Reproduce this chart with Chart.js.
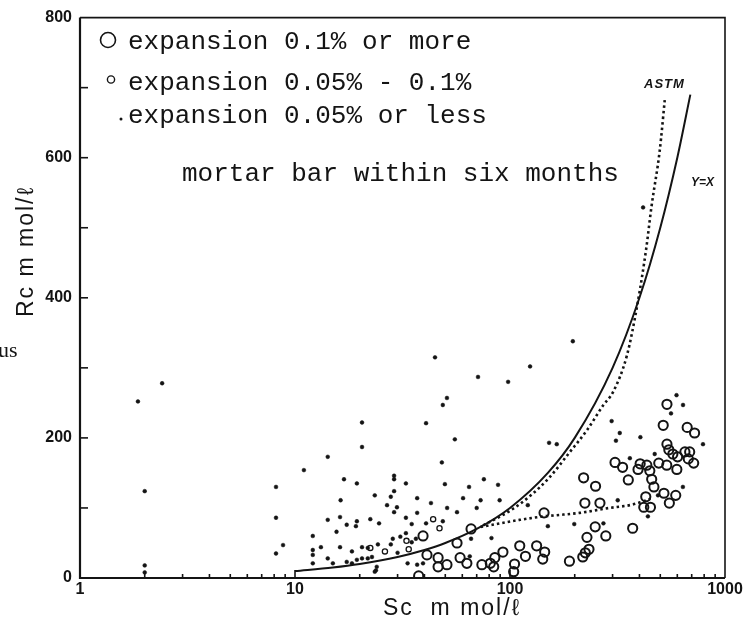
<!DOCTYPE html>
<html>
<head>
<meta charset="utf-8">
<script src="https://cdn.jsdelivr.net/npm/chart.js@4.4.0/dist/chart.umd.min.js"></script>
<style>
  html, body { margin: 0; padding: 0; background: #fff; }
</style>
</head>
<body>
<canvas id="rcChart" width="749" height="626"></canvas>
<script>
  // expansion 0.1% or more (large open circles)
  var bigSc = [37.6, 39.4, 41.1, 46.3, 50.9, 46.3, 56.7, 65.9, 58.6, 63, 74, 81, 85, 92.7, 84,
    105, 104, 111, 118, 133, 145, 142, 144, 189, 218, 224, 233, 228, 279, 249, 372, 223, 262,
    220, 250, 355, 308, 334, 403, 394, 433, 447, 456, 467, 428, 419, 450, 492, 536, 597, 520,
    551, 590, 537, 516, 667, 722, 537, 548, 572, 602, 651, 685, 675, 715];
  var bigRc = [3, 60, 33, 29, 19, 16, 50, 70, 29, 21, 19, 21, 29, 37, 16,
    20, 9, 46, 31, 46, 37, 27, 93, 24, 30, 36, 41, 58, 60, 73, 71, 107, 107,
    143, 131, 140, 165, 158, 163, 155, 161, 153, 141, 130, 116, 101, 101, 164, 161, 155, 121,
    107, 118, 248, 218, 215, 207, 191, 183, 177, 173, 180, 180, 170, 164];

  // expansion 0.05% - 0.1% (small open circles)
  var midSc = [22.4, 26.2, 33, 33.8, 47, 43.9];
  var midRc = [43, 38, 53, 41, 71, 84];

  // expansion 0.05% or less (dots)
  var lowSc = [1.86, 2.41, 2, 2, 2,
    8.16, 8.16, 8.8, 8.16,
    11.0, 14.2, 20.5, 20.5, 16.9, 19.4, 16.3, 23.5,
    14.2, 16.2, 17.4, 19.2, 19.4, 22.4, 24.6,
    12.1, 13.2, 15.6, 16.2, 18.4, 20.5, 21.8, 24.3,
    12.1, 12.1, 12.1, 14.2, 15, 17.4, 18.4, 19.4, 20.5, 21.8, 23.8,
    28.9, 28.9, 32.8, 28.9, 27.9, 26.8, 29.8, 28.9, 37, 37, 32.8, 34.9, 27.9, 28.5, 30.9, 32.8,
    34.9, 36.5, 30, 22.8, 24, 23.5, 33.4, 37,
    98, 50.9, 48.7, 40.7, 55.4, 48.2, 49.8, 64.5, 75.6, 88, 42.9, 51, 60.5, 73, 56.7, 70, 89.5,
    121, 40.7, 48.7, 82, 150, 152, 165, 65, 39.4, 65.9,
    44.8, 71, 124, 196, 416,
    595, 638, 561, 297, 324, 311, 404, 790, 471, 361, 637, 317, 438, 488, 272, 199];
  var lowRc = [252, 278, 124, 8, 18,
    130, 86, 47, 35,
    154, 173, 222, 187, 141, 135, 111, 118,
    83, 87, 76, 74, 81, 84, 78,
    60, 44, 66, 44, 38, 44, 43, 48,
    40, 33, 21, 28, 21, 23, 21, 26, 28, 28, 11,
    146, 141, 135, 124, 116, 104, 101, 94, 114, 93, 86, 77, 48, 56, 59, 64,
    51, 56, 36, 30, 16, 9, 21, 19,
    280, 257, 247, 221, 198, 165, 134, 130, 141, 133, 107, 100, 114, 111, 94, 100, 111,
    104, 78, 81, 57, 74, 193, 191, 31, 21, 56,
    315, 287, 302, 338, 529,
    261, 247, 235, 224, 207, 196, 201, 191, 177, 171, 130, 111, 88, 118, 78, 77];

  // Y=X curve
  var yxSc = [10, 15, 20, 30, 40, 50, 70, 100, 150, 200, 300, 400, 500, 600, 690];
  var yxRc = [10, 15, 20, 30, 40, 50, 70, 100, 150, 200, 300, 400, 500, 600, 690];

  // ASTM boundary (dotted)
  var astmSc = [75, 100, 125, 153, 190, 228, 272, 301, 350, 392, 430, 455, 497, 526];
  var astmRc = [75, 96, 118, 144, 180, 211, 247, 265, 318, 392, 470, 530, 610, 686];

  // lower dotted branch
  var branchSc = [73, 90, 111, 144, 170, 211, 290, 361, 403, 450];
  var branchRc = [73, 78, 83, 88, 90, 93, 100, 104, 108, 113];

  // ticks
  var xTicks = [1, 2, 3, 4, 5, 6, 7, 8, 9, 10, 20, 30, 40, 50, 60, 70, 80, 90,
    100, 200, 300, 400, 500, 600, 700, 800, 900, 1000];
  var xTickLabels = [1, 10, 100, 1000];
  var yTicks = [0, 100, 200, 300, 400, 500, 600, 700, 800];
  var yTickLabels = [0, 200, 400, 600, 800];

  var ink = '#141414';

  function pairs(xs, ys) {
    return xs.map(function (x, i) { return { x: x, y: ys[i] }; });
  }

  // frame, inward ticks, texts
  var decorPlugin = {
    id: 'decor',
    afterDraw: function (chart) {
      var ctx = chart.ctx;
      var a = chart.chartArea;
      var xs = chart.scales.x, ys = chart.scales.y;
      ctx.save();
      ctx.strokeStyle = ink;
      ctx.fillStyle = ink;

      // frame
      ctx.lineWidth = 2.2;
      ctx.beginPath();
      ctx.moveTo(a.left, a.top);
      ctx.lineTo(a.left, a.bottom);
      ctx.lineTo(a.right, a.bottom);
      ctx.stroke();
      ctx.lineWidth = 1.6;
      ctx.beginPath();
      ctx.moveTo(a.left, a.top);
      ctx.lineTo(a.right, a.top);
      ctx.lineTo(a.right, a.bottom);
      ctx.stroke();

      // inward ticks
      ctx.lineWidth = 1.6;
      xTicks.forEach(function (v) {
        if (v <= 1 || v >= 1000) return;
        var px = xs.getPixelForValue(v);
        var len = xTickLabels.indexOf(v) >= 0 ? 8 : 4;
        ctx.beginPath();
        ctx.moveTo(px, a.bottom);
        ctx.lineTo(px, a.bottom - len);
        ctx.stroke();
      });
      yTicks.forEach(function (v) {
        if (v <= 0 || v >= 800) return;
        var py = ys.getPixelForValue(v);
        ctx.beginPath();
        ctx.moveTo(a.left, py);
        ctx.lineTo(a.left + 8, py);
        ctx.stroke();
      });

      // legend text
      ctx.font = '26px "Liberation Mono"';
      ctx.textAlign = 'left';
      ctx.textBaseline = 'alphabetic';
      ctx.fillText('expansion 0.1% or more', 128, 49);
      ctx.fillText('expansion 0.05% - 0.1%', 128, 90);
      ctx.fillText('expansion 0.05% or less', 128, 123);
      ctx.fillText('mortar bar within six months', 182, 181);

      ctx.lineWidth = 1.6;
      ctx.beginPath();
      ctx.arc(108, 40, 7.5, 0, Math.PI * 2);
      ctx.stroke();
      ctx.lineWidth = 1.4;
      ctx.beginPath();
      ctx.arc(111, 79.5, 3.6, 0, Math.PI * 2);
      ctx.stroke();
      ctx.beginPath();
      ctx.arc(121, 119, 1.5, 0, Math.PI * 2);
      ctx.fill();

      // curve labels
      ctx.font = 'italic bold 13px "Liberation Sans"';
      ctx.letterSpacing = '1px';
      ctx.fillText('ASTM', 644, 88);
      ctx.letterSpacing = '0px';
      ctx.font = 'italic bold 12px "Liberation Sans"';
      ctx.fillText('Y=X', 691, 186);

      // axis titles
      ctx.font = '23px "Liberation Sans"';
      ctx.letterSpacing = '2px';
      ctx.fillText('Sc  m mol/\u2113', 383, 615);
      ctx.save();
      ctx.translate(33, 317);
      ctx.rotate(-Math.PI / 2);
      ctx.fillText('Rc m mol/\u2113', 0, 0);
      ctx.restore();
      ctx.letterSpacing = '0px';

      // cut-off fragment at left edge
      ctx.font = '22px "Liberation Serif"';
      ctx.fillText('us', -2, 357);
      ctx.restore();
    }
  };

  var ctx = document.getElementById('rcChart').getContext('2d');
  var rcChart = new Chart(ctx, {
    type: 'scatter',
    data: {
      datasets: [
        {
          label: 'Y=X',
          data: pairs(yxSc, yxRc),
          showLine: true,
          borderColor: ink,
          borderWidth: 2,
          pointRadius: 0,
          cubicInterpolationMode: 'monotone'
        },
        {
          label: 'ASTM',
          data: pairs(astmSc, astmRc),
          showLine: true,
          borderColor: ink,
          borderWidth: 2.6,
          borderDash: [2.5, 3],
          pointRadius: 0,
          cubicInterpolationMode: 'monotone'
        },
        {
          label: 'branch',
          data: pairs(branchSc, branchRc),
          showLine: true,
          borderColor: ink,
          borderWidth: 2.6,
          borderDash: [2.5, 3],
          pointRadius: 0,
          cubicInterpolationMode: 'monotone'
        },
        {
          label: 'expansion 0.1% or more',
          data: pairs(bigSc, bigRc),
          pointStyle: 'circle',
          pointRadius: 4.6,
          borderWidth: 2,
          borderColor: ink,
          backgroundColor: 'rgba(0,0,0,0)'
        },
        {
          label: 'expansion 0.05% - 0.1%',
          data: pairs(midSc, midRc),
          pointStyle: 'circle',
          pointRadius: 2.6,
          borderWidth: 1.3,
          borderColor: ink,
          backgroundColor: 'rgba(0,0,0,0)'
        },
        {
          label: 'expansion 0.05% or less',
          data: pairs(lowSc, lowRc),
          pointStyle: 'circle',
          pointRadius: 1.9,
          borderWidth: 0.5,
          borderColor: ink,
          backgroundColor: ink
        }
      ]
    },
    options: {
      responsive: false,
      animation: false,
      devicePixelRatio: 1,
      layout: { padding: { top: 17, right: 24, left: 0, bottom: 0 } },
      plugins: {
        legend: { display: false },
        tooltip: { enabled: false }
      },
      scales: {
        x: {
          type: 'logarithmic',
          min: 1,
          max: 1000,
          grid: { display: false, drawTicks: false },
          border: { display: false },
          afterBuildTicks: function (axis) {
            axis.ticks = xTicks.map(function (v) { return { value: v }; });
          },
          afterFit: function (axis) { axis.height = 48; },
          ticks: {
            autoSkip: false,
            maxRotation: 0,
            padding: 2,
            color: ink,
            font: { family: '"Liberation Sans"', size: 16, weight: 'bold' },
            callback: function (v) { return xTickLabels.indexOf(v) >= 0 ? String(v) : ''; }
          }
        },
        y: {
          min: 0,
          max: 800,
          grid: { display: false, drawTicks: false },
          border: { display: false },
          afterBuildTicks: function (axis) {
            axis.ticks = yTicks.map(function (v) { return { value: v }; });
          },
          afterFit: function (axis) { axis.width = 80; },
          ticks: {
            autoSkip: false,
            padding: 8,
            color: ink,
            font: { family: '"Liberation Sans"', size: 16, weight: 'bold' },
            callback: function (v) { return yTickLabels.indexOf(v) >= 0 ? String(v) : ''; }
          }
        }
      }
    },
    plugins: [decorPlugin]
  });
</script>
</body>
</html>
